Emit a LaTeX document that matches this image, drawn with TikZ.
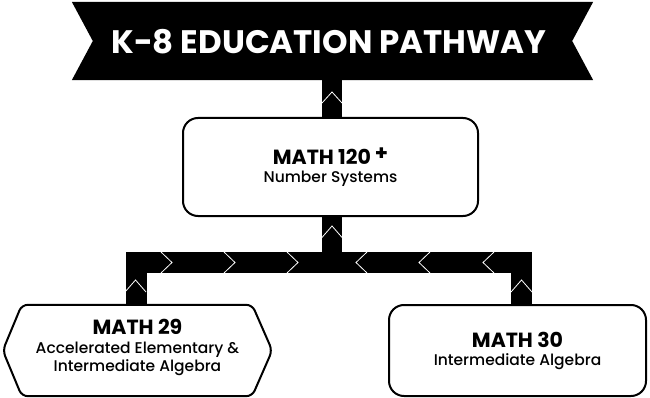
\documentclass[tikz,border=0pt]{standalone}
\usepackage{fontspec}
\setmainfont{Poppins}[UprightFont=* Medium, BoldFont=* Bold]
\usetikzlibrary{backgrounds}
\begin{document}
\begin{tikzpicture}[x=1pt,y=-1pt,
  box/.style={draw=black,fill=white,line width=2pt,rounded corners=15pt,align=center,inner sep=0pt,font=\fontsize{15.5}{17.5}\selectfont},
  hexbox/.style={align=center,inner sep=0pt,font=\fontsize{15.5}{17.5}\selectfont},
  bar/.style={line width=21pt,black,line cap=butt,line join=miter},
  chev/.style={white,line width=0.8pt}]
\useasboundingbox (0,0) rectangle (650,398);
% banner
\node[minimum width=521pt,minimum height=78pt,inner sep=0pt] (banner) at (332.5,41) {};
\fill[black] (banner.north west) -- (banner.north east) -- ([xshift=-21pt]banner.east) -- (banner.south east) -- (banner.south west) -- ([xshift=21pt]banner.west) -- cycle;
\node[text=white,inner sep=0pt,font=\fontsize{32.5}{34}\selectfont\bfseries] (title) at ([xshift=-3.5pt,yshift=-1pt]banner.center) {K-8 EDUCATION PATHWAY};
% boxes (positions)
\coordinate (hub) at (332,262.5);
\node[minimum width=295pt,minimum height=98pt,inner sep=0pt] (m120pos) at (330.5,167) {};
\node[minimum width=269pt,minimum height=91pt,inner sep=0pt] (m29pos) at (137.5,350.5) {};
\node[minimum width=257pt,minimum height=91pt,inner sep=0pt] (m30pos) at (517.5,350.5) {};
% connectors
\draw[bar,line width=20pt] ([xshift=-0.5pt]banner.south) -- ([xshift=1.5pt]m120pos.north);
\draw[bar,line width=20pt] ([xshift=1.5pt]m120pos.south) -- (hub);
\draw[bar] ([xshift=-1.5pt]m29pos.north) |- (hub) -| ([xshift=4pt]m30pos.north);
% chevrons
\draw[chev] (322,103) -- (332,92) -- (342,103);
\draw[chev] (321.5,238) -- (332,226) -- (342.5,238);
\draw[chev] (125,292) -- (135.5,280) -- (146,292);
\draw[chev] (511,292) -- (521.5,280) -- (532,292);
\foreach \b in {161,224,287} {\draw[chev] (\b,252) -- (\b+11,262.5) -- (\b,273);}
\foreach \t in {356,419,483} {\draw[chev] (\t+11,252) -- (\t,262.5) -- (\t+11,273);}
% nodes
\node[box,minimum width=295pt,minimum height=98pt] (m120) at (m120pos) {{\fontsize{20.5}{20}\selectfont\bfseries MATH 120\hspace{4pt}\raisebox{4.5pt}{\fontsize{21}{20}\selectfont +}}\\[0pt]Number Systems};
\draw[line width=2pt,fill=white,rounded corners=6pt] ([xshift=19pt]m29pos.north west) -- ([xshift=-20pt]m29pos.north east) -- (m29pos.east) -- ([xshift=-20pt]m29pos.south east) -- ([xshift=19pt]m29pos.south west) -- (m29pos.west) -- cycle;
\node[hexbox] (m29) at ([yshift=3pt]m29pos) {{\fontsize{20.5}{20}\selectfont\bfseries MATH 29}\\[1.5pt]Accelerated Elementary \&\\Intermediate Algebra};
\node[box,minimum width=257pt,minimum height=91pt] (m30) at (m30pos) {{\fontsize{20.5}{20}\selectfont\bfseries MATH 30}\\[0.5pt]Intermediate Algebra};
\end{tikzpicture}
\end{document}
